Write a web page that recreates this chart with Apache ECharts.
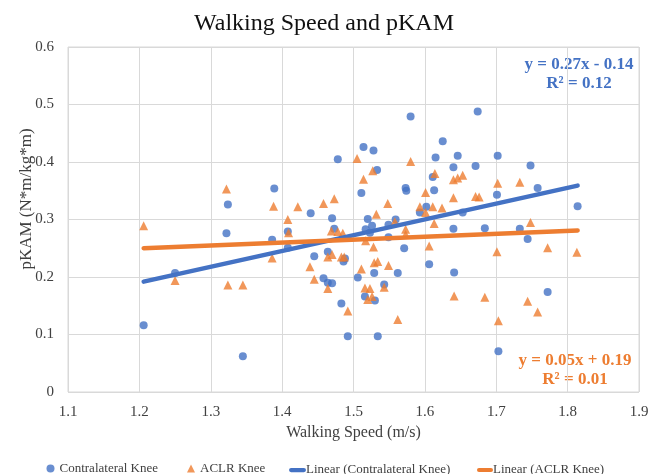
<!DOCTYPE html>
<html><head><meta charset="utf-8">
<script src="https://cdn.jsdelivr.net/npm/echarts@6/dist/echarts.min.js"></script>
<style>html,body{margin:0;padding:0;background:#fff}#c{width:660px;height:474px}</style>
</head><body><div id="c"></div>
<script>
var contraX = [1.206,1.250,1.324,1.322,1.345,1.389,1.386,1.408,1.408,1.440,1.470,1.478,1.514,1.528,1.533,1.511,1.520,1.559,1.580,1.573,1.574,1.615,1.625,1.646,1.640,1.671,1.674,1.611,1.613,1.602,1.593,1.653,1.702,1.748,1.701,1.758,1.814,1.526,1.549,1.473,1.517,1.523,1.549,1.571,1.640,1.445,1.464,1.486,1.488,1.458,1.464,1.470,1.506,1.529,1.562,1.606,1.641,1.543,1.516,1.530,1.483,1.492,1.534,1.684,1.733,1.744,1.772,1.703];
var contraY = [0.116,0.207,0.326,0.276,0.062,0.354,0.265,0.279,0.251,0.311,0.302,0.405,0.426,0.420,0.386,0.346,0.301,0.300,0.479,0.355,0.350,0.408,0.436,0.411,0.391,0.393,0.488,0.374,0.351,0.322,0.312,0.312,0.411,0.394,0.343,0.355,0.323,0.289,0.291,0.284,0.283,0.277,0.269,0.250,0.284,0.236,0.244,0.227,0.232,0.198,0.190,0.189,0.199,0.207,0.207,0.222,0.208,0.187,0.166,0.159,0.154,0.097,0.097,0.285,0.284,0.266,0.174,0.071];
var aclrX = [1.206,1.250,1.322,1.324,1.345,1.388,1.422,1.408,1.409,1.386,1.458,1.473,1.505,1.527,1.514,1.580,1.614,1.640,1.646,1.653,1.601,1.640,1.671,1.676,1.702,1.733,1.548,1.532,1.593,1.611,1.624,1.601,1.558,1.613,1.469,1.478,1.485,1.517,1.573,1.573,1.528,1.606,1.464,1.470,1.483,1.487,1.439,1.445,1.464,1.511,1.529,1.534,1.549,1.543,1.516,1.523,1.520,1.526,1.492,1.562,1.641,1.748,1.701,1.772,1.813,1.684,1.744,1.758,1.703];
var aclrY = [0.289,0.194,0.353,0.186,0.186,0.323,0.322,0.300,0.277,0.233,0.328,0.336,0.406,0.385,0.370,0.401,0.380,0.369,0.372,0.377,0.347,0.338,0.340,0.339,0.363,0.365,0.328,0.309,0.322,0.322,0.320,0.312,0.296,0.293,0.280,0.279,0.276,0.263,0.283,0.274,0.252,0.254,0.235,0.239,0.235,0.235,0.218,0.196,0.180,0.214,0.225,0.227,0.220,0.182,0.181,0.180,0.161,0.166,0.141,0.126,0.167,0.295,0.244,0.251,0.243,0.165,0.158,0.139,0.124];
var trendX = [1.206, 1.814];
var contraTrendY = [0.192, 0.359];
var aclrTrendY = [0.250, 0.281];
var xTicks = ['1.1','1.2','1.3','1.4','1.5','1.6','1.7','1.8','1.9'];
var yTicks = ['0','0.1','0.2','0.3','0.4','0.5','0.6'];
var names = ['Contralateral Knee','ACLR Knee','Linear (Contralateral Knee)','Linear (ACLR Knee)'];
var titleText = 'Walking Speed and pKAM';
var xName = 'Walking Speed (m/s)';
var yName = 'pKAM (N*m/kg*m)';
var eqBlue = ['y = 0.27x - 0.14','R² = 0.12'];
var eqOrange = ['y = 0.05x + 0.19','R² = 0.01'];

var BLUE = '#4472C4', ORANGE = '#ED7D31';
var FONT = '"Liberation Serif","Times New Roman",serif';
function zip(a,b){return a.map(function(v,i){return [v,b[i]];});}
var chart = echarts.init(document.getElementById('c'), null, {renderer:'canvas'});
var lineIcon = 'path://M2.5,0 H17.5 A2.5,2.5 0 0 1 17.5,5 H2.5 A2.5,2.5 0 0 1 2.5,0 Z';
function lg(name, left, icon, w, h, pad){
  return {data:[{name:name, icon:icon}], left:left, top:466-h/2, itemWidth:w, itemHeight:h, itemGap:0,
    textStyle:{fontFamily:FONT, fontSize:13, color:'#404040', padding:[0,0,0,pad]}, padding:0, selectedMode:false};
}
chart.setOption({
  animation:false,
  title:{text:titleText, left:189, top:7,
    textStyle:{fontFamily:FONT, fontSize:24, fontWeight:'normal', color:'#111'}},
  grid:{left:68, right:21, top:47, bottom:82, show:true, borderColor:'#d9d9d9', borderWidth:1},
  legend:[lg(names[0],46.5,'circle',8,8,0), lg(names[1],187,'triangle',8,8,0), lg(names[2],289,lineIcon,17,5,-5), lg(names[3],477,lineIcon,16,5,-5)],
  xAxis:{type:'value', min:1.1, max:1.9, interval:0.1,
    name:xName, nameLocation:'middle', nameGap:33,
    nameTextStyle:{fontFamily:FONT, fontSize:16, color:'#404040'},
    axisLine:{show:false}, axisTick:{show:false},
    axisLabel:{fontFamily:FONT, fontSize:15, color:'#404040', margin:13,
      formatter:function(v){return xTicks[Math.round((v-1.1)*10)];}},
    splitLine:{lineStyle:{color:'#d9d9d9'}}},
  yAxis:{type:'value', min:0, max:0.6, interval:0.1,
    axisLine:{show:false}, axisTick:{show:false},
    axisLabel:{fontFamily:FONT, fontSize:15, color:'#404040', margin:14,
      formatter:function(v){return yTicks[Math.round(v*10)];}},
    splitLine:{lineStyle:{color:'#d9d9d9'}}},
  series:[
    {name:names[0], type:'scatter', symbol:'circle', symbolSize:8, itemStyle:{color:BLUE}, data:zip(contraX,contraY), z:3},
    {name:names[1], type:'scatter', symbol:'triangle', symbolSize:9, itemStyle:{color:ORANGE}, data:zip(aclrX,aclrY), z:3},
    {name:names[2], type:'line', showSymbol:false, symbol:'none', itemStyle:{color:BLUE}, lineStyle:{color:BLUE, width:4.5, cap:'round'}, data:zip(trendX,contraTrendY), z:4},
    {name:names[3], type:'line', showSymbol:false, symbol:'none', itemStyle:{color:ORANGE}, lineStyle:{color:ORANGE, width:4.5, cap:'round'}, data:zip(trendX,aclrTrendY), z:4}
  ],
  graphic:[
    {type:'text', x:27, y:199, rotation:Math.PI/2, style:{text:yName, fill:'#404040', font:'17px '+FONT, textAlign:'center', textVerticalAlign:'middle'}},
    {type:'text', x:579, y:74.5, style:{text:eqBlue[0]+'\n'+eqBlue[1], fill:BLUE, font:'bold 17px '+FONT, textAlign:'center', textVerticalAlign:'middle', lineHeight:19}},
    {type:'text', x:575, y:370, style:{text:eqOrange[0]+'\n'+eqOrange[1], fill:ORANGE, font:'bold 17px '+FONT, textAlign:'center', textVerticalAlign:'middle', lineHeight:19}}
  ]
});
</script></body></html>
